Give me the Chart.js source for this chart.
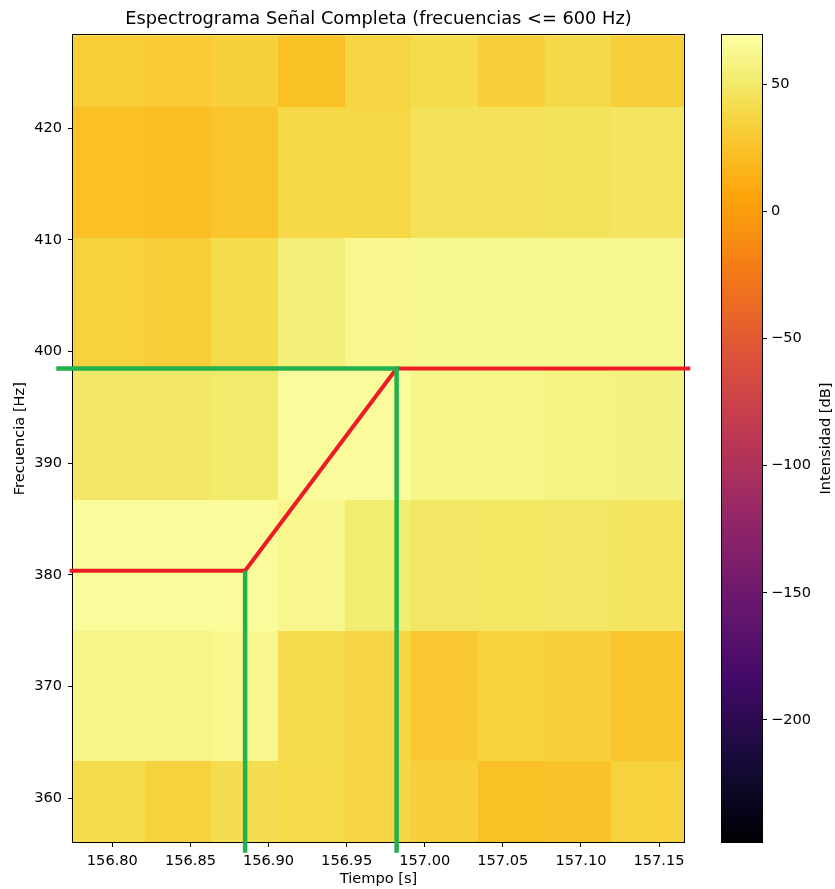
<!DOCTYPE html>
<html>
<head>
<meta charset="utf-8">
<script src="https://cdn.jsdelivr.net/npm/chart.js@4.4.1/dist/chart.umd.min.js"></script>
<style>
  body { margin: 0; background: #fff; }
  #wrap { position: relative; width: 835px; height: 889px; }
  canvas { position: absolute; top: 0; }
</style>
</head>
<body>
<div id="wrap">
  <canvas id="spec" width="835" height="889" style="left:0"></canvas>
  <canvas id="cbar" width="135" height="889" style="left:700px"></canvas>
</div>
<script>
// bins del espectrograma (s / Hz)
const timeEdges = [156.7748, 156.8207, 156.8633, 156.9060, 156.9487, 156.9913, 157.0340, 157.0767, 157.1193, 157.1660];
const freqEdges = [351.5625, 363.28125, 375.0, 386.71875, 398.4375, 410.15625, 421.875, 433.59375];

// intensidad en dB, una fila por bin de frecuencia (de abajo hacia arriba)
const db357 = [41.0, 34.7, 42.0, 39.8, 37.0, 32.8, 24.0, 25.0, 34.7];
const db369 = [60.0, 60.0, 62.0, 41.0, 37.0, 28.0, 34.7, 32.8, 26.0];
const db381 = [66.5, 66.5, 66.5, 62.0, 52.5, 48.4, 47.7, 48.4, 47.0];
const db393 = [49.0, 49.0, 50.3, 66.5, 66.5, 61.0, 60.0, 58.2, 57.3];
const db404 = [34.7, 31.6, 41.1, 55.3, 62.0, 63.0, 63.0, 63.0, 63.0];
const db416 = [23.0, 22.7, 26.0, 38.5, 38.5, 44.6, 44.6, 45.8, 47.0];
const db428 = [31.6, 30.3, 34.1, 24.0, 36.8, 41.0, 32.8, 39.0, 32.2];
const intensity = [db357, db369, db381, db393, db404, db416, db428];

const xTicks = [156.80, 156.85, 156.90, 156.95, 157.00, 157.05, 157.10, 157.15];
const yTicks = [360, 370, 380, 390, 400, 410, 420];
const cbTicks = [-200, -150, -100, -50, 0, 50];

const dbMin = -248.0, dbMax = 69.3;
const xMin = 156.7748, xMax = 157.166;
const yMin = 356.06, yMax = 428.33;

// trazos marcados encima
const redTime = [156.7726, 156.885, 156.982, 157.170];
const redFreq = [380.37, 380.37, 398.48, 398.48];
const greenTimeA = [156.7641, 156.982, 156.982];
const greenFreqA = [398.48, 398.48, 355.1];
const greenTimeB = [156.885, 156.885];
const greenFreqB = [380.37, 355.1];

const pts = (xs, ys) => xs.map((x, i) => ({ x: x, y: ys[i] }));

Chart.defaults.font.family = "'DejaVu Sans'";
Chart.defaults.color = '#000';

const font = { size: 14.6 };

// inferno
const infernoStops = [
  [0.0, [0, 0, 4]], [0.1, [22, 11, 57]], [0.2, [66, 10, 104]], [0.3, [106, 23, 110]],
  [0.4, [147, 38, 103]], [0.5, [188, 55, 84]], [0.6, [221, 81, 58]], [0.7, [243, 120, 25]],
  [0.8, [252, 165, 10]], [0.857, [250, 193, 39]], [0.909, [245, 219, 75]], [0.947, [241, 237, 113]],
  [1.0, [252, 255, 164]]
];
function inferno(t) {
  t = Math.min(1, Math.max(0, t));
  for (let i = 1; i < infernoStops.length; i++) {
    const [t1, c1] = infernoStops[i];
    if (t <= t1) {
      const [t0, c0] = infernoStops[i - 1];
      const f = (t - t0) / (t1 - t0);
      const c = c0.map((v, k) => Math.round(v + (c1[k] - v) * f));
      return 'rgb(' + c.join(',') + ')';
    }
  }
  return 'rgb(252,255,164)';
}

const heatmap = {
  id: 'heatmap',
  beforeDatasetsDraw(chart) {
    const { ctx, chartArea: a, scales: { x, y } } = chart;
    ctx.save();
    ctx.beginPath();
    ctx.rect(a.left, a.top, a.width, a.height);
    ctx.clip();
    intensity.forEach((row, j) => {
      row.forEach((v, i) => {
        const x0 = Math.round(x.getPixelForValue(timeEdges[i]));
        const x1 = Math.round(x.getPixelForValue(timeEdges[i + 1]));
        const y0 = Math.round(y.getPixelForValue(freqEdges[j + 1]));
        const y1 = Math.round(y.getPixelForValue(freqEdges[j]));
        ctx.fillStyle = inferno((v - dbMin) / (dbMax - dbMin));
        ctx.fillRect(x0, y0, x1 - x0, y1 - y0);
      });
    });
    ctx.restore();
    ctx.save();
    ctx.strokeStyle = '#000';
    ctx.lineWidth = 1;
    ctx.strokeRect(Math.round(a.left) - 0.5, Math.round(a.top) - 0.5, Math.round(a.width) + 1, Math.round(a.height) + 1);
    ctx.restore();
  }
};

const lineStyle = { showLine: true, pointRadius: 0, clip: false, borderCapStyle: 'butt' };

new Chart(document.getElementById('spec'), {
  type: 'scatter',
  data: {
    datasets: [
      Object.assign({ data: pts(greenTimeA, greenFreqA), borderColor: '#22b14c', borderWidth: 4.5 }, lineStyle),
      Object.assign({ data: pts(greenTimeB, greenFreqB), borderColor: '#22b14c', borderWidth: 4.5 }, lineStyle),
      Object.assign({ data: pts(redTime, redFreq), borderColor: '#ed1c24', borderWidth: 4 }, lineStyle)
    ]
  },
  options: {
    responsive: false,
    animation: false,
    layout: { padding: { right: 151 } },
    plugins: {
      legend: { display: false },
      tooltip: { enabled: false },
      title: {
        display: true,
        fullSize: false,
        text: 'Espectrograma Señal Completa (frecuencias <= 600 Hz)',
        color: '#000',
        font: { size: 17.8, weight: 'normal' },
        padding: { top: 9, bottom: 5 }
      }
    },
    scales: {
      x: {
        type: 'linear',
        min: xMin,
        max: xMax,
        afterBuildTicks: s => { s.ticks = xTicks.map(v => ({ value: v })); },
        afterFit: s => { s.height = 47; },
        ticks: { callback: v => v.toFixed(2), maxRotation: 0, autoSkip: false, padding: 5, font: font },
        grid: { drawOnChartArea: false, color: '#000', tickLength: 5 },
        border: { display: false },
        title: { display: true, text: 'Tiempo [s]', font: font, padding: { top: 0, bottom: 1 } }
      },
      y: {
        type: 'linear',
        min: yMin,
        max: yMax,
        afterBuildTicks: s => { s.ticks = yTicks.map(v => ({ value: v })); },
        afterFit: s => { s.width = 73; },
        ticks: { autoSkip: false, padding: 6, font: font },
        grid: { drawOnChartArea: false, color: '#000', tickLength: 5 },
        border: { display: false },
        title: { display: true, text: 'Frecuencia [Hz]', font: font, padding: { top: 11, bottom: 0 } }
      }
    }
  },
  plugins: [heatmap]
});

// barra de color
function cbGradient(chart) {
  const a = chart.chartArea;
  if (!a) return null;
  const g = chart.ctx.createLinearGradient(0, a.bottom, 0, a.top);
  for (let i = 0; i <= 64; i++) g.addColorStop(i / 64, inferno(i / 64));
  return g;
}

const cbFrame = {
  id: 'cbFrame',
  afterDatasetsDraw(chart) {
    const { ctx, chartArea: a } = chart;
    ctx.save();
    ctx.strokeStyle = '#000';
    ctx.lineWidth = 1;
    ctx.strokeRect(Math.round(a.left) - 0.5, Math.round(a.top) - 0.5, Math.round(a.width) + 1, Math.round(a.height) + 1);
    ctx.translate(126, (a.top + a.bottom) / 2);
    ctx.rotate(-Math.PI / 2);
    ctx.fillStyle = '#000';
    ctx.font = "14.6px 'DejaVu Sans'";
    ctx.textAlign = 'center';
    ctx.textBaseline = 'middle';
    ctx.fillText('Intensidad [dB]', 0, 0);
    ctx.restore();
  }
};

new Chart(document.getElementById('cbar'), {
  type: 'bar',
  data: {
    labels: [''],
    datasets: [{
      data: [[dbMin, dbMax]],
      backgroundColor: c => cbGradient(c.chart),
      barPercentage: 1,
      categoryPercentage: 1,
      borderWidth: 0
    }]
  },
  options: {
    responsive: false,
    animation: false,
    layout: { padding: { left: 22, top: 35, bottom: 47, right: 0 } },
    plugins: { legend: { display: false }, tooltip: { enabled: false } },
    scales: {
      x: { display: false },
      y: {
        position: 'right',
        min: dbMin,
        max: dbMax,
        afterBuildTicks: s => { s.ticks = cbTicks.map(v => ({ value: v })); },
        afterFit: s => { s.width = 73; },
        ticks: { callback: v => String(v).replace('-', '\u2212'), padding: 4, font: font },
        grid: { drawOnChartArea: false, color: '#000', tickLength: 5 },
        border: { display: false }
      }
    }
  },
  plugins: [cbFrame]
});
</script>
</body>
</html>
